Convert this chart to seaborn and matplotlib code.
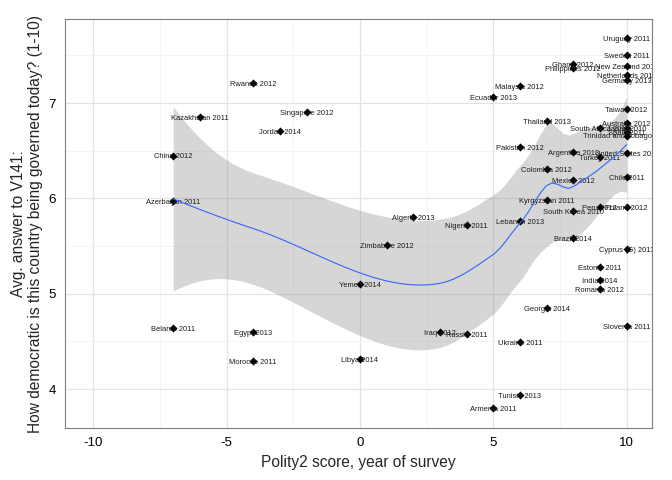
import numpy as np
import pandas as pd
import matplotlib
matplotlib.use("Agg")
import matplotlib.pyplot as plt
import seaborn as sns
from matplotlib.ticker import MultipleLocator

# country, year of survey, polity2 score, avg answer to V141
countries = ["Azerbaijan", "China", "Belarus", "Kazakhstan", "Rwanda", "Egypt", "Morocco",
             "Jordan", "Singapore", "Yemen", "Libya", "Zimbabwe", "Algeria", "Iraq", "Russia",
             "Nigeria", "Ecuador", "Armenia", "Malaysia", "Pakistan", "Lebanon", "Ukraine",
             "Tunisia", "Thailand", "Colombia", "Kyrgyzstan", "Georgia", "Ghana", "Philippines",
             "Argentina", "Mexico", "South Korea", "Brazil", "South Africa", "Turkey", "Peru",
             "Estonia", "India", "Romania", "Uruguay", "Sweden", "New Zealand", "Netherlands",
             "Germany", "Taiwan", "Australia", "Japan", "Spain", "Trinidad and Tobago",
             "United States", "Chile", "Poland", "Cyprus (G)", "Slovenia"]
years = [2011, 2012, 2011, 2011, 2012, 2013, 2011,
         2014, 2012, 2014, 2014, 2012, 2013, 2012, 2011,
         2011, 2013, 2011, 2012, 2012, 2013, 2011,
         2013, 2013, 2012, 2011, 2014, 2012, 2012,
         2013, 2012, 2010, 2014, 2013, 2011, 2012,
         2011, 2014, 2012, 2011, 2011, 2011, 2012,
         2013, 2012, 2012, 2010, 2011, 2010,
         2011, 2011, 2012, 2011, 2011]
polity2 = [-7, -7, -7, -6, -4, -4, -4,
           -3, -2, 0, 0, 1, 2, 3, 4,
           4, 5, 5, 6, 6, 6, 6,
           6, 7, 7, 7, 7, 8, 8,
           8, 8, 8, 8, 9, 9, 9,
           9, 9, 9, 10, 10, 10, 10,
           10, 10, 10, 10, 10, 10,
           10, 10, 10, 10, 10]
v141 = [5.97, 6.45, 4.64, 6.85, 7.21, 4.60, 4.29,
        6.71, 6.91, 5.10, 4.32, 5.51, 5.80, 4.60, 4.58,
        5.72, 7.06, 3.80, 7.18, 6.54, 5.76, 4.49,
        3.94, 6.81, 6.31, 5.98, 4.85, 7.41, 7.37,
        6.49, 6.19, 5.87, 5.58, 6.74, 6.43, 5.91,
        5.28, 5.14, 5.05, 7.68, 7.50, 7.39, 7.29,
        7.24, 6.94, 6.79, 6.74, 6.70, 6.66,
        6.48, 6.22, 5.91, 5.47, 4.66]

df = pd.DataFrame({"country": countries, "year": years, "polity2": polity2, "v141": v141})
df["label"] = df["country"] + " " + df["year"].astype(str)


# loess like R (degree 2, span 0.75, kd-tree vertices + cubic hermite interpolation)
def local_rows(x, x0, span=0.75):
    n = len(x)
    q = int(np.floor(n * span + 1e-5))
    d = np.abs(x - x0)
    h = np.sort(d)[q - 1]
    w = np.clip(1 - (d / h) ** 3, 0, None) ** 3
    X = np.column_stack([np.ones(n), x - x0, (x - x0) ** 2])
    XtW = X.T * w
    B = np.linalg.solve(XtW @ X, XtW)
    return B[0], B[1]  # value row, slope row


def kd_vertices(x, span=0.75, cell=0.2):
    xs = np.sort(x)
    n = len(xs)
    fc = int(np.floor(n * span * cell))
    mu = 0.005 * (xs[-1] - xs[0])
    verts = {xs[0] - mu, xs[-1] + mu}
    stack = [(0, n - 1, xs[0] - mu, xs[-1] + mu)]
    while stack:
        l, u, vl, vu = stack.pop()
        if u - l + 1 <= fc:
            continue
        m = (l + u) // 2
        off = 0
        while l <= m + off < u:
            if xs[m + off] == xs[m + off + 1]:
                off = -off
                if off >= 0:
                    off += 1
            else:
                m = m + off
                break
        split = xs[m]
        if split == vl or split == vu:
            continue
        verts.add(split)
        stack.append((l, m, vl, split))
        stack.append((m + 1, u, split, vu))
    return np.array(sorted(verts))


def interp_rows(x, verts, pts):
    vals = [local_rows(x, v) for v in verts]
    out = []
    for p in pts:
        i = min(max(np.searchsorted(verts, p) - 1, 0), len(verts) - 2)
        v0, v1 = verts[i], verts[i + 1]
        h = v1 - v0
        t = (p - v0) / h
        h00 = 2 * t ** 3 - 3 * t ** 2 + 1
        h10 = t ** 3 - 2 * t ** 2 + t
        h01 = -2 * t ** 3 + 3 * t ** 2
        h11 = t ** 3 - t ** 2
        out.append(h00 * vals[i][0] + h * h10 * vals[i][1]
                   + h01 * vals[i + 1][0] + h * h11 * vals[i + 1][1])
    return np.array(out)


def loess_fit(x, y, grid):
    x = np.asarray(x, float)
    y = np.asarray(y, float)
    verts = kd_vertices(x)
    L = interp_rows(x, verts, x)
    M = np.eye(len(x)) - L
    MM = M.T @ M
    d1 = np.trace(MM)
    s = np.sqrt(np.sum((y - L @ y) ** 2) / d1)
    Lg = interp_rows(x, verts, grid)
    return Lg @ y, s * np.sqrt(np.sum(Lg ** 2, axis=1))


grid = np.linspace(df["polity2"].min(), df["polity2"].max(), 80)
fit, se = loess_fit(df["polity2"], df["v141"], grid)
tcrit = 2.01

sns.set_style("white")
plt.rcParams["font.family"] = ["Liberation Sans", "DejaVu Sans"]
plt.rcParams["axes.unicode_minus"] = False

fig, ax = plt.subplots(figsize=(6.72, 4.8), dpi=100)
fig.subplots_adjust(left=0.097, right=0.970, top=0.960, bottom=0.108)

ax.set_axisbelow(True)
ax.xaxis.set_major_locator(MultipleLocator(5))
ax.xaxis.set_minor_locator(MultipleLocator(2.5))
ax.yaxis.set_major_locator(MultipleLocator(1))
ax.yaxis.set_minor_locator(MultipleLocator(0.5))
ax.grid(which="major", color="#e3e3e3", linewidth=0.9)
ax.grid(which="minor", color="#f3f3f3", linewidth=0.6)

ax.fill_between(grid, fit - tcrit * se, fit + tcrit * se, color="#999999", alpha=0.4,
                linewidth=0, zorder=2)

sns.scatterplot(data=df, x="polity2", y="v141", marker="D", s=17, color="black",
                edgecolor="black", linewidth=0, ax=ax, zorder=3)

for _, r in df.iterrows():
    ax.text(r["polity2"], r["v141"] - 0.015, r["label"], fontsize=5.4, ha="center", va="center",
            color="#1a1a1a", clip_on=True, zorder=4)

sns.lineplot(x=grid, y=fit, color="#3366FF", linewidth=0.8, ax=ax, zorder=5)

ax.set_xlim(-11.05, 10.95)
ax.set_ylim(3.59, 7.88)
ax.set_xticks([-10, -5, 0, 5, 10])
ax.set_yticks([4, 5, 6, 7])

for sp in ax.spines.values():
    sp.set_color("#7f7f7f")
    sp.set_linewidth(0.8)
ax.tick_params(axis="both", which="major", length=3, color="#7f7f7f", labelsize=9.6,
               labelcolor="black", width=0.6)
ax.tick_params(axis="both", which="minor", length=0)

ax.set_xlabel("Polity2 score, year of survey", fontsize=11.2)
ax.set_ylabel("Avg. answer to V141:\nHow democratic is this country being governed today? (1-10)",
              fontsize=11.2, linespacing=1.2)

plt.savefig("out.png", dpi=100)
